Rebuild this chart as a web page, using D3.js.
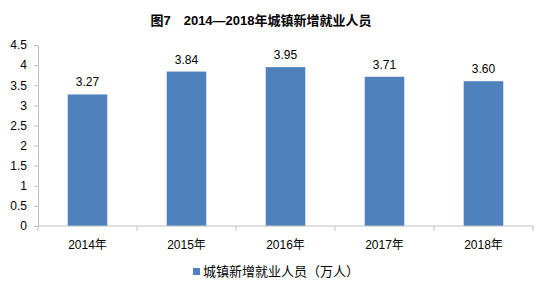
<!DOCTYPE html>
<html>
<head>
<meta charset="utf-8">
<script src="https://cdn.jsdelivr.net/npm/d3@7"></script>
<style>
  body { margin: 0; background: #fff; }
  svg text { font-family: "Liberation Sans", "Noto Sans CJK SC", sans-serif; }
</style>
</head>
<body>
<svg id="chart" width="549" height="293"></svg>
<script>
const years = ['2014年', '2015年', '2016年', '2017年', '2018年'];
const values = [3.27, 3.84, 3.95, 3.71, 3.60];
const labels = ['3.27', '3.84', '3.95', '3.71', '3.60'];
const yTicks = [0, 0.5, 1, 1.5, 2, 2.5, 3, 3.5, 4, 4.5];
const title = '图7　2014—2018年城镇新增就业人员';
const legendText = '城镇新增就业人员（万人）';

const svg = d3.select('#chart');
const margin = {top: 45, right: 16, left: 38, bottom: 67};
const width = +svg.attr('width');
const height = +svg.attr('height');
const innerWidth = width - margin.left - margin.right;
const innerHeight = height - margin.top - margin.bottom;

const g = svg.append('g')
    .attr('transform', `translate(${margin.left}, ${margin.top})`);

const xScale = d3.scaleBand().domain(years).range([0, innerWidth])
    .paddingInner(0.6).paddingOuter(0.3);
const yScale = d3.scaleLinear().domain([0, 4.5]).range([innerHeight, 0]);

// title
svg.append('text')
    .attr('x', 261).attr('y', 25)
    .attr('text-anchor', 'middle')
    .attr('font-size', 13).attr('font-weight', 'bold')
    .attr('fill', '#000')
    .text(title);

// y axis
const yAxisG = g.append('g')
    .call(d3.axisLeft(yScale).tickValues(yTicks).tickFormat(d3.format('')).tickSize(4).tickSizeOuter(0));
yAxisG.select('.domain').attr('stroke', '#bfbfbf');
yAxisG.selectAll('.tick line').attr('stroke', '#bfbfbf');
yAxisG.selectAll('.tick text').attr('font-size', 12).attr('fill', '#000').attr('x', -11);

// bars
g.selectAll('rect.bar').data(values).enter().append('rect')
    .attr('class', 'bar')
    .attr('x', (d, i) => xScale(years[i]))
    .attr('y', d => yScale(d))
    .attr('width', xScale.bandwidth())
    .attr('height', d => innerHeight - yScale(d))
    .attr('fill', '#4f81bd');

// value labels
g.selectAll('text.val').data(values).enter().append('text')
    .attr('class', 'val')
    .attr('x', (d, i) => xScale(years[i]) + xScale.bandwidth() / 2)
    .attr('y', d => yScale(d) - 8)
    .attr('text-anchor', 'middle')
    .attr('font-size', 12).attr('fill', '#000')
    .text((d, i) => labels[i]);

// x axis with ticks at band boundaries
const xAxisG = g.append('g').attr('transform', `translate(0, ${innerHeight})`);
xAxisG.append('line')
    .attr('x1', 0).attr('x2', innerWidth)
    .attr('stroke', '#bfbfbf');
const bounds = years.map(y => xScale(y) - xScale.step() * xScale.paddingInner() / 2);
bounds.push(innerWidth);
xAxisG.selectAll('line.tk').data(bounds).enter().append('line')
    .attr('class', 'tk')
    .attr('x1', d => d).attr('x2', d => d)
    .attr('y1', 0).attr('y2', 5)
    .attr('stroke', '#bfbfbf');
xAxisG.selectAll('text').data(years).enter().append('text')
    .attr('x', d => xScale(d) + xScale.bandwidth() / 2)
    .attr('y', 23)
    .attr('text-anchor', 'middle')
    .attr('font-size', 12).attr('fill', '#000')
    .text(d => d);

// legend
const legend = svg.append('g').attr('transform', 'translate(193, 272)');
legend.append('rect')
    .attr('x', 0).attr('y', -4).attr('width', 7).attr('height', 7)
    .attr('fill', '#4f81bd');
legend.append('text')
    .attr('x', 10).attr('y', 4)
    .attr('font-size', 13).attr('fill', '#000')
    .text(legendText);
</script>
</body>
</html>
